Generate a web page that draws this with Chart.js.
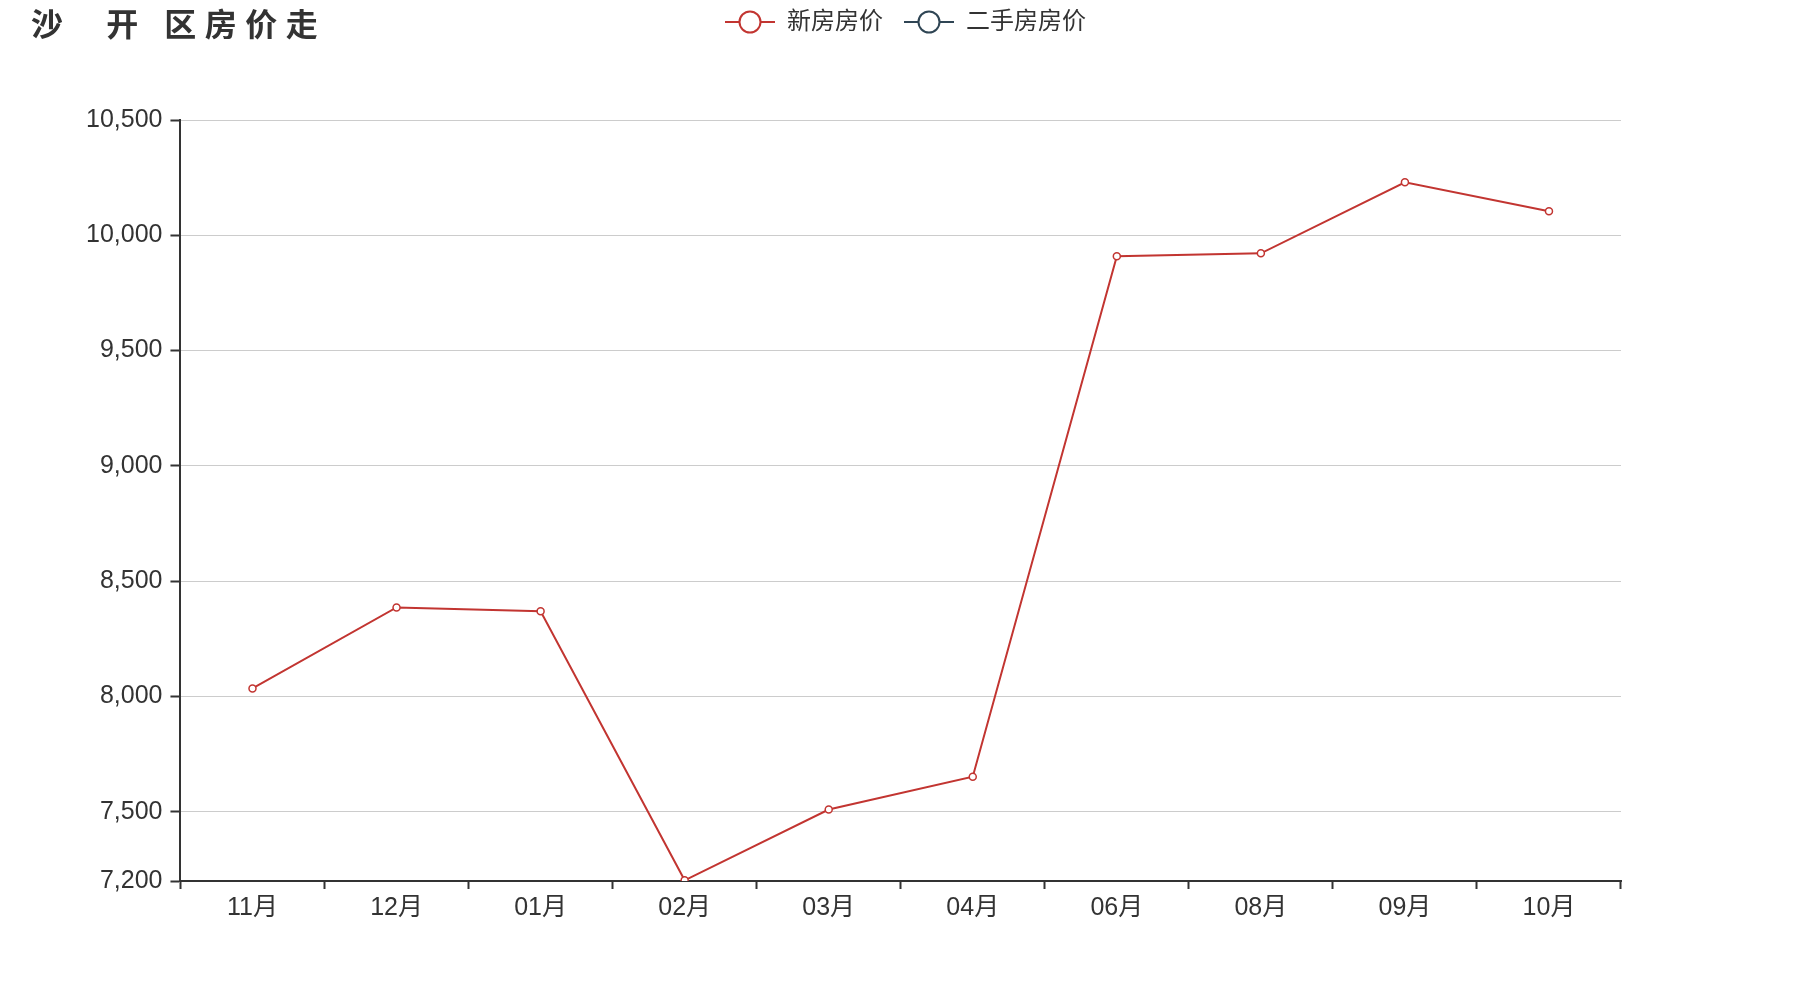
<!DOCTYPE html>
<html>
<head>
<meta charset="utf-8">
<title>沙开区房价走</title>
<script src="https://cdn.jsdelivr.net/npm/chart.js@4/dist/chart.umd.min.js"></script>
<style>
  html, body { margin: 0; padding: 0; background: #fff; }
  #wrap { width: 1800px; height: 1000px; }
</style>
</head>
<body>
<div id="wrap"><canvas id="priceChart" width="1800" height="1000"></canvas></div>
<script>
// chart data
const titleText = "沙  开 区房价走";
const months = ["11月", "12月", "01月", "02月", "03月", "04月", "06月", "08月", "09月", "10月"];
const newHousePrice = [8035, 8386, 8370, 7203, 7510, 7652, 9909, 9922, 10230, 10104];
const resalePrice = [null, null, null, null, null, null, null, null, null, null];
const yTicks = [7200, 7500, 8000, 8500, 9000, 9500, 10000, 10500];
const seriesNames = ["新房房价", "二手房房价"];
const seriesColors = ["#c23531", "#2f4554"];

const FONT = "'Liberation Sans', 'Noto Sans CJK SC', sans-serif";

// legend icon: short line with a hollow circle in the middle
// (a bit of blank space on the left keeps the items apart)
function legendIcon(color) {
    const c = document.createElement("canvas");
    c.width = 61;
    c.height = 26;
    const g = c.getContext("2d");
    g.strokeStyle = color;
    g.lineWidth = 2;
    g.beginPath();
    g.moveTo(11, 13);
    g.lineTo(61, 13);
    g.stroke();
    g.beginPath();
    g.arc(36, 13, 10.5, 0, Math.PI * 2);
    g.fillStyle = "#fff";
    g.fill();
    g.stroke();
    return c;
}
const icons = seriesColors.map(legendIcon);

// title sits on the same row as the legend, so draw it by hand
const titlePlugin = {
    id: "leftTitle",
    afterDraw(chart) {
        const ctx = chart.ctx;
        ctx.save();
        ctx.font = "bold 32px " + FONT;
        ctx.fillStyle = "#333";
        ctx.textBaseline = "middle";
        ctx.letterSpacing = "8.5px";
        ctx.fillText(titleText, 31, 27);
        ctx.restore();
    }
};

// leave room under the legend, and center it on the whole canvas
const legendSpace = {
    id: "legendSpace",
    beforeInit(chart) {
        const origFit = chart.legend.fit;
        chart.legend.fit = function () {
            origFit.bind(this)();
            this.height += 76;
        };
    },
    afterLayout(chart) {
        const lg = chart.legend;
        lg.left = 0;
        lg.right = chart.width;
        lg.width = chart.width;
    }
};

new Chart(document.getElementById("priceChart"), {
    type: "line",
    data: {
        labels: months,
        datasets: [
            {
                label: seriesNames[0],
                data: newHousePrice,
                borderColor: seriesColors[0],
                backgroundColor: "#fff",
                borderWidth: 2,
                pointRadius: 3.5,
                pointBorderWidth: 1.5,
                pointBackgroundColor: "#fff",
                pointBorderColor: seriesColors[0],
                tension: 0
            },
            {
                label: seriesNames[1],
                data: resalePrice,
                borderColor: seriesColors[1],
                backgroundColor: "#fff",
                borderWidth: 2,
                pointRadius: 3.5,
                pointBackgroundColor: "#fff"
            }
        ]
    },
    options: {
        responsive: false,
        devicePixelRatio: 1,
        animation: false,
        layout: { padding: { left: 78, right: 179, top: 0, bottom: 73 } },
        plugins: {
            tooltip: { enabled: false },
            legend: {
                position: "top",
                align: "center",
                labels: {
                    usePointStyle: true,
                    pointStyleWidth: 61,
                    padding: 10,
                    color: "#333",
                    font: { family: FONT, size: 24 },
                    generateLabels(chart) {
                        const items = Chart.defaults.plugins.legend.labels.generateLabels(chart);
                        items.forEach((it, i) => { it.pointStyle = icons[i]; });
                        return items;
                    }
                }
            }
        },
        scales: {
            x: {
                type: "category",
                offset: true,
                grid: {
                    offset: true,
                    drawOnChartArea: false,
                    tickLength: 8,
                    tickColor: "#333",
                    tickWidth: 2
                },
                border: { color: "#333", width: 2 },
                ticks: {
                    color: "#333",
                    padding: 4,
                    maxRotation: 0,
                    font: { family: FONT, size: 25 }
                }
            },
            y: {
                min: 7200,
                max: 10500,
                afterBuildTicks(scale) {
                    scale.ticks = yTicks.map(v => ({ value: v }));
                },
                grid: {
                    color: "#ccc",
                    lineWidth: 1,
                    tickLength: 10,
                    tickColor: "#333",
                    tickWidth: 2
                },
                border: { color: "#333", width: 2 },
                ticks: {
                    color: "#333",
                    padding: 8,
                    font: { family: FONT, size: 25 },
                    callback: v => v.toLocaleString("en-US")
                }
            }
        }
    },
    plugins: [titlePlugin, legendSpace]
});
</script>
</body>
</html>
